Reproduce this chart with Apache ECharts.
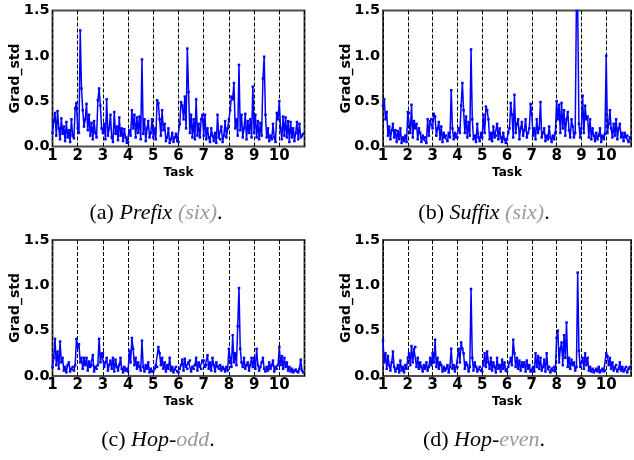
<!DOCTYPE html>
<html>
<head>
<meta charset="utf-8">
<script src="https://cdn.jsdelivr.net/npm/echarts@6/dist/echarts.min.js"></script>
<style>
  html, body { margin: 0; padding: 0; background: #fff; }
  #chart { width: 634px; height: 460px; }
</style>
</head>
<body>
<div id="chart"></div>
<script>
// Gradient std per training step, 20 steps per task, tasks 1..10
const stepsPerTask = 20;
const taskTicks = [1, 2, 3, 4, 5, 6, 7, 8, 9, 10];

const prefixSix = [
  0.15, 0.28, 0.37, 0.12, 0.39, 0.2, 0.08, 0.31, 0.14, 0.22, 0.06, 0.27, 0.1, 0.18, 0.05, 0.3, 0.12, 0.09, 0.42, 0.48,
  0.2, 0.15, 1.28, 0.64, 0.4, 0.22, 0.3, 0.47, 0.18, 0.35, 0.12, 0.26, 0.08, 0.28, 0.15, 0.1, 0.51, 0.64, 0.45, 0.2,
  0.15, 0.25, 0.08, 0.52, 0.12, 0.2, 0.35, 0.1, 0.05, 0.38, 0.14, 0.22, 0.07, 0.32, 0.12, 0.2, 0.06, 0.19, 0.1, 0.04,
  0.05, 0.18, 0.12, 0.4, 0.2, 0.35, 0.1, 0.32, 0.15, 0.33, 0.08, 0.96, 0.14, 0.3, 0.06, 0.2, 0.28, 0.1, 0.15, 0.3,
  0.1, 0.2, 0.08, 0.51, 0.48, 0.3, 0.12, 0.4, 0.18, 0.25, 0.06, 0.1, 0.2, 0.04, 0.08, 0.15, 0.05, 0.1, 0.14, 0.06,
  0.05, 0.25, 0.49, 0.45, 0.3, 0.55, 0.2, 1.08, 0.6, 0.15, 0.35, 0.1, 0.3, 0.08, 0.52, 0.12, 0.25, 0.1, 0.3, 0.35,
  0.12, 0.35, 0.08, 0.2, 0.1, 0.05, 0.2, 0.12, 0.06, 0.15, 0.04, 0.35, 0.1, 0.08, 0.22, 0.05, 0.12, 0.28, 0.1, 0.2,
  0.3, 0.4, 0.55, 0.52, 0.7, 0.2, 0.3, 0.12, 0.9, 0.18, 0.35, 0.1, 0.2, 0.36, 0.08, 0.28, 0.15, 0.3, 0.1, 0.66,
  0.15, 0.35, 0.1, 0.28, 0.08, 0.26, 0.12, 0.75, 0.99, 0.35, 0.1, 0.2, 0.06, 0.12, 0.08, 0.25, 0.1, 0.05, 0.37, 0.3,
  0.5, 0.2, 0.08, 0.33, 0.12, 0.32, 0.1, 0.28, 0.05, 0.27, 0.1, 0.2, 0.06, 0.15, 0.27, 0.08, 0.25, 0.1, 0.12, 0.14
];

const suffixSix = [
  0.45, 0.52, 0.3, 0.38, 0.12, 0.22, 0.08, 0.18, 0.25, 0.1, 0.18, 0.05, 0.17, 0.08, 0.2, 0.04, 0.1, 0.06, 0.12, 0.05,
  0.38, 0.37, 0.15, 0.46, 0.1, 0.28, 0.2, 0.25, 0.08, 0.2, 0.15, 0.05, 0.12, 0.08, 0.1, 0.04, 0.3, 0.12, 0.28, 0.3,
  0.2, 0.36, 0.33, 0.12, 0.2, 0.27, 0.08, 0.22, 0.05, 0.15, 0.1, 0.12, 0.06, 0.15, 0.1, 0.62, 0.2, 0.08, 0.15, 0.1,
  0.1, 0.2, 0.15, 0.45, 0.7, 0.4, 0.15, 0.33, 0.1, 0.27, 0.12, 1.07, 0.3, 0.08, 0.12, 0.05, 0.25, 0.1, 0.06, 0.15,
  0.1, 0.35, 0.15, 0.44, 0.4, 0.3, 0.08, 0.15, 0.06, 0.22, 0.1, 0.12, 0.25, 0.08, 0.2, 0.1, 0.05, 0.15, 0.08, 0.04,
  0.08, 0.15, 0.2, 0.48, 0.35, 0.1, 0.57, 0.15, 0.25, 0.3, 0.08, 0.2, 0.27, 0.12, 0.18, 0.3, 0.1, 0.15, 0.2, 0.47,
  0.35, 0.12, 0.2, 0.08, 0.3, 0.15, 0.2, 0.49, 0.1, 0.15, 0.2, 0.06, 0.12, 0.08, 0.22, 0.1, 0.05, 0.12, 0.08, 0.15,
  0.5, 0.3, 0.46, 0.15, 0.48, 0.2, 0.4, 0.12, 0.3, 0.38, 0.18, 0.1, 0.3, 0.22, 0.1, 0.15, 1.62, 1.55, 0.25, 0.1,
  0.2, 0.56, 0.15, 0.45, 0.3, 0.33, 0.1, 0.3, 0.08, 0.2, 0.12, 0.06, 0.15, 0.08, 0.12, 0.2, 0.05, 0.12, 0.08, 0.14,
  1.0, 0.15, 0.25, 0.4, 0.2, 0.1, 0.25, 0.12, 0.3, 0.08, 0.2, 0.25, 0.1, 0.15, 0.06, 0.15, 0.1, 0.12, 0.05, 0.1
];

const hopOdd = [
  0.1, 0.2, 0.41, 0.12, 0.27, 0.08, 0.38, 0.15, 0.2, 0.06, 0.1, 0.04, 0.12, 0.15, 0.05, 0.08, 0.1, 0.06, 0.12, 0.41,
  0.32, 0.35, 0.15, 0.2, 0.08, 0.2, 0.12, 0.2, 0.06, 0.16, 0.1, 0.12, 0.23, 0.05, 0.1, 0.08, 0.12, 0.41, 0.15, 0.25,
  0.25, 0.1, 0.15, 0.2, 0.06, 0.12, 0.17, 0.08, 0.2, 0.05, 0.18, 0.1, 0.06, 0.12, 0.2, 0.08, 0.04, 0.1, 0.06, 0.08,
  0.05, 0.28, 0.15, 0.42, 0.3, 0.12, 0.2, 0.08, 0.15, 0.1, 0.06, 0.39, 0.1, 0.05, 0.12, 0.08, 0.15, 0.04, 0.08, 0.05,
  0.05, 0.08, 0.12, 0.1, 0.32, 0.25, 0.12, 0.2, 0.08, 0.15, 0.05, 0.12, 0.08, 0.2, 0.06, 0.1, 0.04, 0.08, 0.1, 0.05,
  0.04, 0.08, 0.12, 0.18, 0.06, 0.19, 0.1, 0.08, 0.15, 0.17, 0.05, 0.1, 0.08, 0.12, 0.2, 0.06, 0.15, 0.1, 0.08, 0.17,
  0.17, 0.1, 0.12, 0.23, 0.08, 0.15, 0.06, 0.2, 0.12, 0.05, 0.15, 0.1, 0.08, 0.12, 0.06, 0.1, 0.08, 0.05, 0.1, 0.06,
  0.3, 0.2, 0.1, 0.45, 0.15, 0.25, 0.12, 0.55, 0.97, 0.3, 0.15, 0.1, 0.2, 0.08, 0.12, 0.15, 0.06, 0.12, 0.2, 0.1,
  0.2, 0.08, 0.3, 0.12, 0.06, 0.1, 0.15, 0.2, 0.08, 0.05, 0.1, 0.06, 0.15, 0.08, 0.12, 0.17, 0.05, 0.1, 0.08, 0.12,
  0.32, 0.12, 0.22, 0.08, 0.2, 0.1, 0.15, 0.06, 0.1, 0.05, 0.08, 0.04, 0.06, 0.07, 0.05, 0.04, 0.08, 0.18, 0.06, 0.04
];

const hopEven = [
  0.39, 0.15, 0.25, 0.08, 0.22, 0.12, 0.06, 0.15, 0.27, 0.1, 0.05, 0.08, 0.12, 0.04, 0.17, 0.06, 0.1, 0.04, 0.12, 0.08,
  0.2, 0.25, 0.12, 0.33, 0.15, 0.3, 0.32, 0.1, 0.2, 0.08, 0.15, 0.1, 0.05, 0.12, 0.08, 0.15, 0.06, 0.1, 0.2, 0.12,
  0.25, 0.15, 0.4, 0.1, 0.2, 0.08, 0.15, 0.12, 0.05, 0.1, 0.06, 0.08, 0.12, 0.04, 0.1, 0.3, 0.08, 0.12, 0.05, 0.1,
  0.1, 0.3, 0.15, 0.37, 0.3, 0.25, 0.08, 0.15, 0.12, 0.05, 0.1, 0.96, 0.2, 0.06, 0.15, 0.1, 0.05, 0.08, 0.1, 0.06,
  0.05, 0.12, 0.25, 0.1, 0.27, 0.15, 0.08, 0.2, 0.06, 0.15, 0.1, 0.04, 0.2, 0.08, 0.12, 0.05, 0.18, 0.08, 0.15, 0.06,
  0.05, 0.1, 0.15, 0.2, 0.12, 0.4, 0.25, 0.1, 0.2, 0.08, 0.17, 0.06, 0.15, 0.1, 0.15, 0.05, 0.17, 0.08, 0.12, 0.05,
  0.06, 0.1, 0.05, 0.25, 0.1, 0.22, 0.08, 0.2, 0.06, 0.1, 0.18, 0.05, 0.25, 0.08, 0.1, 0.04, 0.08, 0.06, 0.1, 0.05,
  0.42, 0.5, 0.15, 0.3, 0.37, 0.12, 0.45, 0.2, 0.59, 0.1, 0.2, 0.08, 0.18, 0.12, 0.15, 0.06, 0.1, 1.14, 0.28, 0.1,
  0.15, 0.2, 0.08, 0.25, 0.12, 0.2, 0.06, 0.1, 0.05, 0.08, 0.04, 0.06, 0.08, 0.05, 0.1, 0.04, 0.06, 0.08, 0.05, 0.06,
  0.25, 0.22, 0.12, 0.2, 0.08, 0.15, 0.06, 0.1, 0.12, 0.05, 0.08, 0.15, 0.06, 0.1, 0.05, 0.08, 0.1, 0.04, 0.08, 0.1
];

const yTicks = [0.0, 0.5, 1.0, 1.5];

const panels = [
  { values: prefixSix, grid: { left: 52.5, top: 10.5, width: 252, height: 136 } },
  { values: suffixSix, grid: { left: 383, top: 10.5, width: 253, height: 136 } },
  { values: hopOdd,    grid: { left: 52.5, top: 240, width: 252, height: 136 } },
  { values: hopEven,   grid: { left: 383, top: 240, width: 253, height: 136 } }
];

const labelFont = 'DejaVu Sans';

const option = {
  animation: false,
  backgroundColor: '#fff',
  grid: panels.map(p => Object.assign({
    show: true, borderColor: '#4d4d4d', borderWidth: 2, backgroundColor: 'transparent'
  }, p.grid)),
  xAxis: panels.map((p, i) => ({
    type: 'value', gridIndex: i, min: 1, max: 11, interval: 1,
    name: 'Task', nameLocation: 'middle', nameGap: 20, nameMoveOverlap: false,
    nameTextStyle: { fontFamily: labelFont, fontWeight: 'bold', fontSize: 12, color: '#000' },
    axisLine: { show: false },
    axisTick: { show: false },
    axisLabel: {
      fontFamily: labelFont, fontWeight: 'bold', fontSize: 15, color: '#000', margin: 2,
      formatter: v => taskTicks.includes(v) ? String(v) : ''
    },
    splitLine: { show: true, lineStyle: { color: '#000', width: 1, type: [4, 2] } }
  })),
  yAxis: panels.map((p, i) => ({
    type: 'value', gridIndex: i, min: 0, max: 1.5, interval: 0.5,
    name: 'Grad_std', nameLocation: 'middle', nameGap: 30, nameMoveOverlap: false,
    nameTextStyle: { fontFamily: labelFont, fontWeight: 'bold', fontSize: 14, color: '#000' },
    axisLine: { show: false },
    axisTick: { show: false },
    axisLabel: {
      fontFamily: labelFont, fontWeight: 'bold', fontSize: 14.5, color: '#000', margin: 3,
      formatter: v => yTicks.includes(v) ? v.toFixed(1) : ''
    },
    splitLine: { show: false }
  })),
  series: panels.map((p, i) => ({
    type: 'line', xAxisIndex: i, yAxisIndex: i,
    data: p.values.map((v, k) => [1 + k / stepsPerTask, v]),
    clip: true,
    symbol: 'rect', symbolSize: 2.5, showSymbol: true,
    itemStyle: { color: '#0000ff' },
    lineStyle: { color: '#0000ff', width: 1.5 }
  })),
  graphic: [
    ['{n|(a) }{i|Prefix}{g| (six)}{n|.}', 156, 213],
    ['{n|(b) }{i|Suffix}{g| (six)}{n|.}', 484, 213],
    ['{n|(c) }{i|Hop}{n|-}{g|odd}{n|.}', 158, 440],
    ['{n|(d) }{i|Hop}{n|-}{g|even}{n|.}', 484, 440]
  ].map(([text, x, y]) => ({
    type: 'text', x, y,
    style: {
      text, textAlign: 'center', textVerticalAlign: 'middle',
      rich: {
        n: { fontFamily: 'Liberation Serif', fontSize: 22, fill: '#000', color: '#000' },
        i: { fontFamily: 'Liberation Serif', fontSize: 22, fontStyle: 'italic', fill: '#000', color: '#000' },
        g: { fontFamily: 'Liberation Serif', fontSize: 22, fontStyle: 'italic', fill: '#999', color: '#999' }
      }
    }
  }))
};

const chart = echarts.init(document.getElementById('chart'), null, { renderer: 'canvas' });
chart.setOption(option);
</script>
</body>
</html>
